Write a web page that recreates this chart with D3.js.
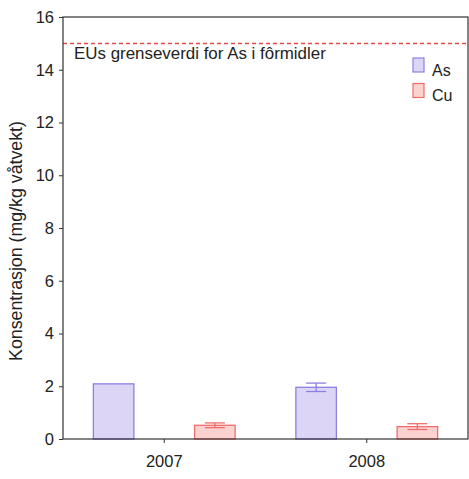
<!DOCTYPE html>
<html><head><meta charset="utf-8">
<script src="https://cdn.jsdelivr.net/npm/d3@7"></script>
<style>body{margin:0;background:#fff}text{font-family:"Liberation Sans",Arial,sans-serif;fill:#222}</style>
</head><body><svg id="c" width="469" height="479"></svg>
<script>
const years = ["2007", "2008"];
const series = ["As", "Cu"];
const asValues = [2.09, 1.96];
const asErrors = [0, 0.16];
const cuValues = [0.52, 0.47];
const cuErrors = [0.09, 0.11];
const yTicks = [0, 2, 4, 6, 8, 10, 12, 14, 16];
const limitValue = 15;
const limitLabel = "EUs grenseverdi for As i fôrmidler";
const yLabel = "Konsentrasjon (mg/kg våtvekt)";

const colors = {As: {fill: "#ddd5f6", stroke: "#8c80e0"}, Cu: {fill: "#fcd2d0", stroke: "#ee6d6a"}};
const svg = d3.select("#c");
const L = 63, R = 468, T = 17, B = 439;
const y = d3.scaleLinear().domain([0, 16]).range([B, T]);
const x0 = d3.scaleBand().domain(years).range([L, R]).padding(0);
const x1 = d3.scaleBand().domain(series).range([0, x0.bandwidth()]).paddingInner(0.6).paddingOuter(0.3);

const data = [];
years.forEach((yr, i) => {
  data.push({year: yr, s: "As", v: asValues[i], e: asErrors[i]});
  data.push({year: yr, s: "Cu", v: cuValues[i], e: cuErrors[i]});
});

function fit(sel, target) {
  const len = sel.node().getComputedTextLength();
  const fs = parseFloat(sel.attr("font-size"));
  sel.attr("font-size", fs * target / len);
}

// limit line
const ly15 = Math.round(y(limitValue)) + 0.5;
svg.append("line").attr("x1", L).attr("x2", R).attr("y1", ly15).attr("y2", ly15)
  .attr("stroke", "#e84848").attr("stroke-width", 1.3).attr("stroke-dasharray", "4,3");
const ann = svg.append("text").attr("x", 74).attr("y", 59).attr("font-size", 16).text(limitLabel);
fit(ann, 252);

// bars
svg.selectAll("rect.bar").data(data).enter().append("rect")
  .attr("x", d => x0(d.year) + x1(d.s)).attr("width", x1.bandwidth())
  .attr("y", d => y(d.v)).attr("height", d => y(0) - y(d.v))
  .attr("fill", d => colors[d.s].fill).attr("stroke", d => colors[d.s].stroke).attr("stroke-width", 1.3);

// error bars
const eb = data.filter(d => d.e > 0);
const cw = 10;
eb.forEach(d => {
  const cx = x0(d.year) + x1(d.s) + x1.bandwidth() / 2;
  const g = svg.append("g").attr("stroke", colors[d.s].stroke).attr("stroke-width", 1.3);
  g.append("line").attr("x1", cx).attr("x2", cx).attr("y1", y(d.v + d.e)).attr("y2", y(d.v - d.e));
  g.append("line").attr("x1", cx - cw).attr("x2", cx + cw).attr("y1", y(d.v + d.e)).attr("y2", y(d.v + d.e));
  g.append("line").attr("x1", cx - cw).attr("x2", cx + cw).attr("y1", y(d.v - d.e)).attr("y2", y(d.v - d.e));
});

// frame
svg.append("rect").attr("x", L).attr("y", T).attr("width", R - L).attr("height", B - T)
  .attr("fill", "none").attr("stroke", "#333").attr("stroke-width", 1.2);

// axes
const ya = svg.append("g").attr("transform", `translate(${L},0)`)
  .call(d3.axisLeft(y).tickValues(yTicks).tickSize(4).tickPadding(5).tickFormat(d3.format("d")));
ya.select(".domain").remove();
ya.selectAll("line").attr("stroke", "#333");
ya.selectAll("text").attr("font-size", 16.5).attr("fill", "#222").style("font-family", "Liberation Sans, Arial");

const xa = svg.append("g").attr("transform", `translate(0,${B})`)
  .call(d3.axisBottom(x0).tickSize(4).tickPadding(12));
xa.select(".domain").remove();
xa.selectAll("line").attr("stroke", "#333");
xa.selectAll("text").attr("font-size", 16.5).attr("fill", "#222").style("font-family", "Liberation Sans, Arial");

// y label
const yl = svg.append("text").attr("transform", `translate(22,241) rotate(-90)`).attr("text-anchor", "middle")
  .attr("font-size", 16).text(yLabel);
fit(yl, 240);

// legend
series.forEach((s, i) => {
  const ly = 58 + i * 25.5;
  svg.append("rect").attr("x", 413).attr("y", ly).attr("width", 11).attr("height", 14)
    .attr("fill", colors[s].fill).attr("stroke", colors[s].stroke).attr("stroke-width", 1.2);
  svg.append("text").attr("x", 432).attr("y", ly + 17.5).attr("font-size", 16).text(s);
});
</script></body></html>
